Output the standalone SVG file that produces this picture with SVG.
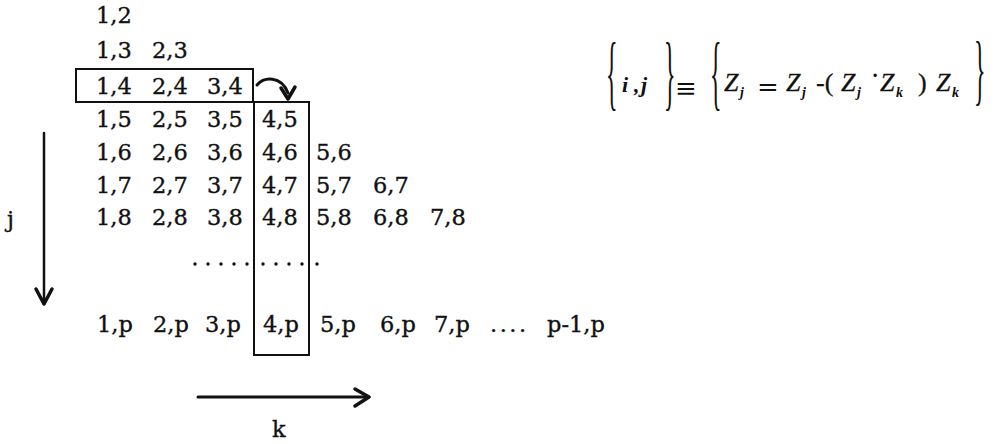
<svg xmlns="http://www.w3.org/2000/svg" width="996" height="444" viewBox="0 0 996 444">
<style>
  .t { font-family: "DejaVu Serif", "Liberation Serif", serif; font-size: 22.5px; fill: #111; stroke: #111; stroke-width: 0.35px; }
  .m { font-family: "Liberation Serif", serif; font-style: italic; font-size: 26px; fill: #111; stroke: #111; stroke-width: 0.3px; }
  .mb { font-family: "Liberation Serif", serif; font-style: italic; font-weight: bold; font-size: 22px; fill: #111; }
  .sub { font-family: "Liberation Serif", serif; font-style: italic; font-weight: bold; font-size: 14px; fill: #111; }
  .op { font-family: "DejaVu Serif", "Liberation Serif", serif; font-size: 26px; fill: #111; }
  .par { font-family: "Liberation Serif", serif; font-size: 26px; fill: #111; stroke: #111; stroke-width: 0.3px; }
  .br { font-family: "Liberation Serif", serif; font-size: 24px; fill: #111; }
  .box { fill: none; stroke: #111; stroke-width: 2; }
  .ln { fill: none; stroke: #111; stroke-linecap: round; stroke-linejoin: round; }
</style>
<rect width="996" height="444" fill="#fff"/>

<g id="matrix">
  <text class="t" x="96" y="23">1,2</text>
  <text class="t" x="96" y="58">1,3</text><text class="t" x="152" y="58">2,3</text>
  <text class="t" x="96" y="94">1,4</text><text class="t" x="152" y="94">2,4</text><text class="t" x="207" y="94">3,4</text>
  <text class="t" x="96" y="127">1,5</text><text class="t" x="152" y="127">2,5</text><text class="t" x="207" y="127">3,5</text><text class="t" x="262" y="127">4,5</text>
  <text class="t" x="96" y="160">1,6</text><text class="t" x="152" y="160">2,6</text><text class="t" x="207" y="160">3,6</text><text class="t" x="262" y="160">4,6</text><text class="t" x="316" y="160">5,6</text>
  <text class="t" x="96" y="193">1,7</text><text class="t" x="152" y="193">2,7</text><text class="t" x="207" y="193">3,7</text><text class="t" x="262" y="193">4,7</text><text class="t" x="316" y="193">5,7</text><text class="t" x="373" y="193">6,7</text>
  <text class="t" x="96" y="225">1,8</text><text class="t" x="152" y="225">2,8</text><text class="t" x="207" y="225">3,8</text><text class="t" x="262" y="225">4,8</text><text class="t" x="316" y="225">5,8</text><text class="t" x="373" y="225">6,8</text><text class="t" x="430" y="225">7,8</text>
  <g fill="#111">
    <circle cx="195" cy="264" r="1.7"/><circle cx="208" cy="264" r="1.7"/><circle cx="221" cy="264" r="1.7"/><circle cx="234" cy="264" r="1.7"/><circle cx="247" cy="264" r="1.7"/>
    <circle cx="263" cy="264" r="1.7"/><circle cx="276" cy="264" r="1.7"/><circle cx="289" cy="264" r="1.7"/><circle cx="302" cy="264" r="1.7"/>
    <circle cx="317" cy="264" r="1.7"/>
  </g>
  <text class="t" x="97" y="332">1,p</text><text class="t" x="153" y="332">2,p</text><text class="t" x="205" y="332">3,p</text><text class="t" x="263" y="332">4,p</text><text class="t" x="320" y="332">5,p</text><text class="t" x="380" y="332">6,p</text><text class="t" x="434" y="332">7,p</text>
  <text class="t" x="490" y="332" letter-spacing="2.5">....</text>
  <text class="t" x="547" y="332">p-1,p</text>
</g>

<g id="row-box"><rect class="box" x="76" y="69" width="177" height="33"/></g>
<g id="col-box"><rect class="box" x="254" y="102" width="55" height="253"/></g>

<g id="axis-j">
  <text class="t" x="7" y="227">j</text>
</g>
<g id="axis-k">
  <text class="t" x="272" y="437">k</text>
</g>

<g id="connectors">
  <path class="ln" stroke-width="3" d="M257,85 C264,77 281,75 288,93"/>
  <path class="ln" stroke-width="3.5" d="M281,88 L288,99 L295,87"/>
  <line class="ln" stroke-width="2.5" x1="44" y1="133" x2="44" y2="304"/>
  <path class="ln" stroke-width="3.5" d="M36,289 L44,304 L52,289"/>
  <line class="ln" stroke-width="3" x1="198" y1="397" x2="369" y2="397"/>
  <path class="ln" stroke-width="3.5" d="M355,389 L369,397 L355,406"/>
</g>

<g id="formula">
  <text class="br" transform="translate(606,100) scale(1,3.4)">{</text>
  <text class="mb" x="622" y="92">i</text>
  <text class="mb" x="634" y="92">,</text>
  <text class="mb" x="641" y="92">j</text>
  <text class="br" transform="translate(664,100) scale(1,3.4)">}</text>
  <text class="op" x="675" y="97">≡</text>
  <text class="br" transform="translate(710,100) scale(1,3.4)">{</text>
  <text class="m" x="724" y="91">Z</text><text class="sub" x="740" y="97">j</text>
  <text class="op" x="757" y="96">=</text>
  <text class="m" x="786" y="91">Z</text><text class="sub" x="802" y="97">j</text>
  <text class="par" x="816" y="91">-(</text>
  <text class="m" x="841" y="91">Z</text><text class="sub" x="857" y="97">j</text>
  <text class="op" x="871" y="84">·</text>
  <text class="m" x="880" y="91">Z</text><text class="sub" x="896" y="97">k</text>
  <text class="par" x="918" y="91">)</text>
  <text class="m" x="936" y="91">Z</text><text class="sub" x="952" y="97">k</text>
  <text class="br" transform="translate(974,96) scale(1,3.3)">}</text>
</g>
</svg>
